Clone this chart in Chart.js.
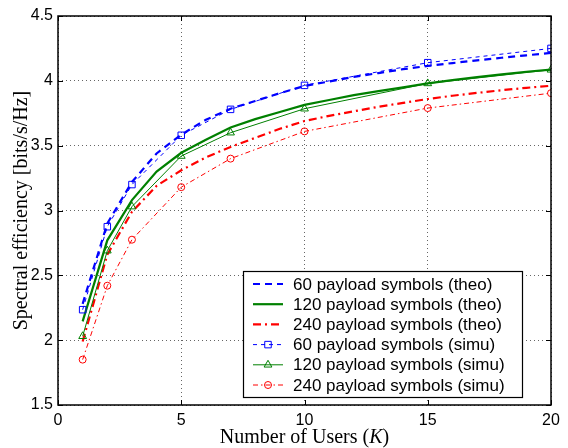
<!DOCTYPE html>
<html>
<head>
<meta charset="utf-8">
<script src="https://cdn.jsdelivr.net/npm/chart.js@4/dist/chart.umd.min.js"></script>
<style>
  html, body { margin: 0; padding: 0; background: #fff; }
  #chart { display: block; }
</style>
</head>
<body>
<canvas id="chart" width="568" height="448"></canvas>
<script>
// Number of users for the theoretical curves and for the simulated points
const users = [1, 2, 3, 4, 5, 6, 7, 8, 9, 10, 11, 12, 13, 14, 15, 16, 17, 18, 19, 20];
const simuUsers = [1, 2, 3, 5, 7, 10, 15, 20];

// Theoretical spectral efficiency (bits/s/Hz)
const theo60 = [2.28, 2.90, 3.22, 3.44, 3.585, 3.70, 3.785, 3.845, 3.905, 3.96,
                3.995, 4.03, 4.06, 4.09, 4.115, 4.137, 4.158, 4.178, 4.197, 4.215];
const theo120 = [2.145, 2.77, 3.08, 3.30, 3.445, 3.545, 3.64, 3.705, 3.76, 3.815,
                 3.852, 3.89, 3.92, 3.95, 3.98, 4.005, 4.028, 4.05, 4.07, 4.087];
const theo240 = [1.99, 2.66, 2.99, 3.19, 3.31, 3.41, 3.49, 3.56, 3.63, 3.69,
                 3.73, 3.765, 3.80, 3.83, 3.86, 3.885, 3.907, 3.928, 3.946, 3.962];

// Simulated spectral efficiency (bits/s/Hz)
const simu60 = [2.235, 2.875, 3.20, 3.58, 3.78, 3.965, 4.14, 4.25];
const simu120 = [2.03, 2.69, 3.03, 3.42, 3.60, 3.785, 3.98, 4.085];
const simu240 = [1.85, 2.42, 2.775, 3.18, 3.40, 3.61, 3.79, 3.905];

const seriesNames = [
    '60 payload symbols (theo)',
    '120 payload symbols (theo)',
    '240 payload symbols (theo)',
    '60 payload symbols (simu)',
    '120 payload symbols (simu)',
    '240 payload symbols (simu)'
];

const xTicks = [0, 5, 10, 15, 20];
const yTicks = [1.5, 2, 2.5, 3, 3.5, 4, 4.5];

const BLUE = '#0000ff';
const GREEN = '#008000';
const RED = '#ff0000';

function toPoints(xs, ys) {
    return xs.map((x, i) => ({ x: x, y: ys[i] }));
}

// Draw a marker (open square / triangle / circle)
function drawMarker(ctx, style, x, y, r, color) {
    ctx.save();
    ctx.setLineDash([]);
    ctx.strokeStyle = color;
    ctx.lineWidth = 1;
    ctx.beginPath();
    if (style === 'rect') {
        const s = r * Math.SQRT1_2;
        ctx.rect(x - s, y - s, 2 * s, 2 * s);
    } else if (style === 'triangle') {
        ctx.moveTo(x, y - r);
        ctx.lineTo(x + r * 0.866, y + r * 0.5);
        ctx.lineTo(x - r * 0.866, y + r * 0.5);
        ctx.closePath();
    } else {
        ctx.arc(x, y, r, 0, Math.PI * 2);
    }
    ctx.stroke();
    ctx.restore();
}

// Axes box, inward ticks, x title with italic K, legend
const framePlugin = {
    id: 'frame',
    afterDatasetsDraw(chart) {
        const ctx = chart.ctx;
        const a = chart.chartArea;
        const xs = chart.scales.x;
        const ys = chart.scales.y;

        ctx.save();
        ctx.strokeStyle = '#000';
        ctx.lineWidth = 1;
        ctx.setLineDash([]);
        ctx.beginPath();
        xTicks.forEach(v => {
            const px = Math.round(xs.getPixelForValue(v)) + 0.5;
            ctx.moveTo(px, a.bottom); ctx.lineTo(px, a.bottom - 5);
            ctx.moveTo(px, a.top); ctx.lineTo(px, a.top + 5);
        });
        yTicks.forEach(v => {
            const py = Math.round(ys.getPixelForValue(v)) + 0.5;
            ctx.moveTo(a.left, py); ctx.lineTo(a.left + 5, py);
            ctx.moveTo(a.right, py); ctx.lineTo(a.right - 5, py);
        });
        ctx.stroke();
        ctx.lineWidth = 1.5;
        ctx.strokeRect(a.left, a.top, a.right - a.left, a.bottom - a.top);

        // x axis title
        ctx.fillStyle = '#000';
        ctx.textBaseline = 'alphabetic';
        const serif = '20px "Liberation Serif", "Times New Roman", serif';
        const serifIt = 'italic 20px "Liberation Serif", "Times New Roman", serif';
        const p1 = 'Number of Users (', p2 = 'K', p3 = ')';
        ctx.font = serif;
        const w1 = ctx.measureText(p1).width, w3 = ctx.measureText(p3).width;
        ctx.font = serifIt;
        const w2 = ctx.measureText(p2).width;
        let tx = (a.left + a.right) / 2 - (w1 + w2 + w3) / 2;
        const ty = 443;
        ctx.textAlign = 'left';
        ctx.font = serif; ctx.fillText(p1, tx, ty); tx += w1;
        ctx.font = serifIt; ctx.fillText(p2, tx, ty); tx += w2;
        ctx.font = serif; ctx.fillText(p3, tx, ty);

        // legend
        const bw = 279, bh = 126;
        const bx = a.right - 29 - bw;
        const by = a.bottom - 8 - bh;
        ctx.fillStyle = '#fff';
        ctx.fillRect(bx, by, bw, bh);
        ctx.lineWidth = 1.2;
        ctx.strokeStyle = '#000';
        ctx.strokeRect(bx + 0.5, by + 0.5, bw, bh);
        ctx.font = '17px "Liberation Sans", Arial, sans-serif';
        ctx.textBaseline = 'middle';
        chart.data.datasets.forEach((ds, i) => {
            const ry = by + 13 + i * 20.2;
            ctx.save();
            ctx.strokeStyle = ds.borderColor;
            ctx.lineWidth = ds.borderWidth;
            ctx.setLineDash(ds.borderDash || []);
            ctx.beginPath();
            ctx.moveTo(bx + 10, ry);
            ctx.lineTo(bx + 40, ry);
            ctx.stroke();
            ctx.restore();
            if (ds.pointRadius > 0) {
                drawMarker(ctx, ds.pointStyle, bx + 25, ry, ds.pointRadius, ds.borderColor);
            }
            ctx.fillStyle = '#000';
            ctx.fillText(seriesNames[i], bx + 50, ry + 1);
        });
        ctx.restore();
    }
};

function theoSet(idx, ys, color, dash) {
    return {
        label: seriesNames[idx],
        data: toPoints(users, ys),
        borderColor: color,
        borderWidth: 2.2,
        borderDash: dash,
        pointRadius: 0,
        fill: false,
        order: 1
    };
}

function simuSet(idx, ys, color, dash, style, radius) {
    return {
        label: seriesNames[idx],
        data: toPoints(simuUsers, ys),
        borderColor: color,
        borderWidth: 1,
        borderDash: dash,
        pointStyle: style,
        pointRadius: radius,
        pointBorderColor: color,
        pointBorderWidth: 1,
        pointBackgroundColor: 'rgba(0,0,0,0)',
        fill: false,
        order: 0
    };
}

document.addEventListener('DOMContentLoaded', () => {
    const ctx = document.getElementById('chart').getContext('2d');
    new Chart(ctx, {
        type: 'line',
        data: {
            datasets: [
                theoSet(0, theo60, BLUE, [7, 5]),
                theoSet(1, theo120, GREEN, []),
                theoSet(2, theo240, RED, [8, 4, 2, 4]),
                simuSet(3, simu60, BLUE, [4, 4], 'rect', 4.6),
                simuSet(4, simu120, GREEN, [], 'triangle', 4.5),
                simuSet(5, simu240, RED, [5, 3, 1.5, 3], 'circle', 3.5)
            ]
        },
        options: {
            responsive: false,
            animation: false,
            devicePixelRatio: 1,
            layout: { padding: { left: 0, right: 17, top: 16, bottom: 0 } },
            plugins: {
                legend: { display: false },
                tooltip: { enabled: false }
            },
            scales: {
                x: {
                    type: 'linear',
                    min: 0,
                    max: 20,
                    afterBuildTicks: scale => { scale.ticks = xTicks.map(v => ({ value: v })); },
                    afterFit: scale => { scale.height = 43; },
                    grid: { color: 'rgba(0,0,0,0.6)', lineWidth: 1, drawTicks: false },
                    border: { display: false, dash: [1, 3] },
                    ticks: {
                        color: '#000',
                        padding: 6,
                        maxRotation: 0,
                        autoSkip: false,
                        callback: v => String(v),
                        font: { family: '"Liberation Sans", Arial, sans-serif', size: 16 }
                    }
                },
                y: {
                    min: 1.5,
                    max: 4.5,
                    afterBuildTicks: scale => { scale.ticks = yTicks.map(v => ({ value: v })); },
                    afterFit: scale => { scale.width = 58; },
                    grid: { color: 'rgba(0,0,0,0.6)', lineWidth: 1, drawTicks: false },
                    border: { display: false, dash: [1, 3] },
                    ticks: {
                        color: '#000',
                        padding: 5,
                        autoSkip: false,
                        callback: v => String(v),
                        font: { family: '"Liberation Sans", Arial, sans-serif', size: 16 }
                    },
                    title: {
                        display: true,
                        text: 'Spectral efficiency [bits/s/Hz]',
                        color: '#000',
                        padding: { top: 10, bottom: 0 },
                        font: { family: '"Liberation Serif", "Times New Roman", serif', size: 20 }
                    }
                }
            }
        },
        plugins: [framePlugin]
    });
});
</script>
</body>
</html>
